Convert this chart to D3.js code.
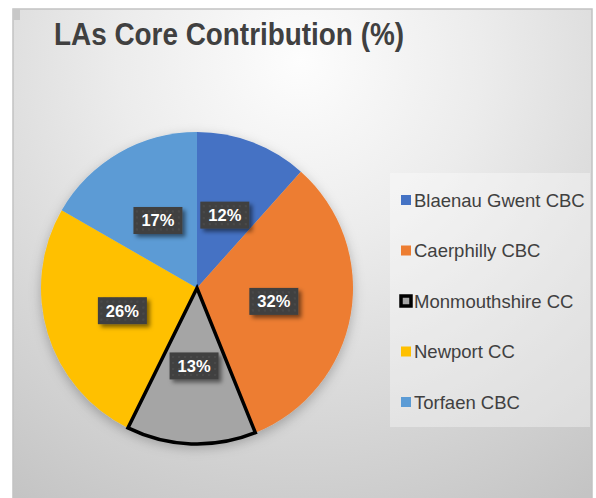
<!DOCTYPE html>
<html>
<head>
<meta charset="utf-8">
<script src="https://cdn.jsdelivr.net/npm/d3@7"></script>
<style>
  html, body { margin: 0; padding: 0; background: #ffffff; }
  svg { display: block; }
</style>
</head>
<body>
<svg id="chart" width="596" height="498"></svg>
<script>
const categories = ["Blaenau Gwent CBC", "Caerphilly CBC", "Monmouthshire CC", "Newport CC", "Torfaen CBC"];
const values = [11.6, 32.3, 13.4, 26.0, 16.7];
const colors = ["#4472C4", "#ED7D31", "#A5A5A5", "#FFC000", "#5B9BD5"];
const highlighted = ["Monmouthshire CC"];
const title = "LAs Core Contribution (%)";

const svg = d3.select("#chart");
const defs = svg.append("defs");

// background radial gradient
const bg = defs.append("radialGradient").attr("id", "bgGrad")
  .attr("gradientUnits", "userSpaceOnUse")
  .attr("cx", 300).attr("cy", 60).attr("r", 520);
bg.append("stop").attr("offset", "0%").attr("stop-color", "#fdfdfd");
bg.append("stop").attr("offset", "35%").attr("stop-color", "#ececec");
bg.append("stop").attr("offset", "100%").attr("stop-color", "#c4c4c4");

const pieShadow = defs.append("filter").attr("id", "pieShadow")
  .attr("x", "-20%").attr("y", "-20%").attr("width", "140%").attr("height", "140%");
pieShadow.append("feDropShadow").attr("dx", 0).attr("dy", 4).attr("stdDeviation", 6)
  .attr("flood-color", "#000").attr("flood-opacity", 0.25);

const lblShadow = defs.append("filter").attr("id", "lblShadow")
  .attr("x", "-30%").attr("y", "-30%").attr("width", "170%").attr("height", "180%");
lblShadow.append("feDropShadow").attr("dx", 3).attr("dy", 3).attr("stdDeviation", 2)
  .attr("flood-color", "#000").attr("flood-opacity", 0.5);

const pat = defs.append("pattern").attr("id", "dots").attr("patternUnits", "userSpaceOnUse")
  .attr("width", 6).attr("height", 6);
pat.append("rect").attr("width", 6).attr("height", 6).attr("fill", "#404040");
pat.append("circle").attr("cx", 3).attr("cy", 3).attr("r", 1.2).attr("fill", "#4a4a4a");

// chart area frame
svg.append("rect").attr("x", 13).attr("y", 9).attr("width", 579).attr("height", 500)
  .attr("fill", "url(#bgGrad)").attr("stroke", "#c2c2c2").attr("stroke-width", 1.5);
svg.append("rect").attr("x", 13).attr("y", 9).attr("width", 7).attr("height", 11)
  .attr("fill", "#c8c8c8");

// title
svg.append("text").attr("x", 54).attr("y", 45)
  .attr("font-family", "Liberation Sans, Arial, sans-serif")
  .attr("font-weight", "bold").attr("font-size", 31)
  .attr("fill", "#404040")
  .attr("textLength", 350).attr("lengthAdjust", "spacingAndGlyphs")
  .text(title);

// pie
const cx = 197, cy = 288, R = 156;
const data = categories.map((c, i) => ({ name: c, value: values[i], color: colors[i] }));
const pie = d3.pie().value(d => d.value).sort(null);
const arcs = pie(data);
const arc = d3.arc().innerRadius(0).outerRadius(R);
const total = d3.sum(values);
const fmt = d3.format(".0%");

const g = svg.append("g").attr("transform", `translate(${cx},${cy})`);
const slices = g.append("g").attr("filter", "url(#pieShadow)");
slices.selectAll("path").data(arcs).join("path")
  .attr("d", arc)
  .attr("fill", d => d.data.color);
// highlighted slice outline
g.selectAll("path.hl").data(arcs.filter(d => highlighted.includes(d.data.name))).join("path")
  .attr("class", "hl")
  .attr("d", arc)
  .attr("fill", "none")
  .attr("stroke", "#000").attr("stroke-width", 3.5).attr("stroke-linejoin", "miter");

// labels
const lbl = g.selectAll("g.lbl").data(arcs).join("g").attr("class", "lbl")
  .attr("transform", d => `translate(${arc.centroid(d)})`);
lbl.append("rect").attr("x", -24.5).attr("y", -13.5).attr("width", 49).attr("height", 27)
  .attr("fill", "url(#dots)").attr("filter", "url(#lblShadow)");
lbl.append("text").attr("text-anchor", "middle").attr("y", 6)
  .attr("font-family", "Liberation Sans, Arial, sans-serif")
  .attr("font-weight", "bold").attr("font-size", 16.5)
  .attr("fill", "#ffffff")
  .text(d => fmt(d.data.value / total));

// legend
svg.append("rect").attr("x", 390).attr("y", 173).attr("width", 200).attr("height", 254)
  .attr("fill", "#ffffff").attr("fill-opacity", 0.35);
const ly = d3.scalePoint().domain(categories).range([200, 402]);
const leg = svg.append("g").selectAll("g").data(data).join("g")
  .attr("transform", d => `translate(401,${ly(d.name)})`);
leg.append("rect")
  .attr("x", d => highlighted.includes(d.name) ? 0 : 0)
  .attr("y", d => highlighted.includes(d.name) ? -5 : -5)
  .attr("width", 10)
  .attr("height", 10)
  .attr("fill", d => d.color)
  .attr("stroke", d => highlighted.includes(d.name) ? "#000" : "none")
  .attr("stroke-width", 3.5);
leg.append("text").attr("x", 13).attr("y", 6.5)
  .attr("font-family", "Liberation Sans, Arial, sans-serif")
  .attr("font-size", 18.5).attr("fill", "#404040")
  .text(d => d.name);
</script>
</body>
</html>
